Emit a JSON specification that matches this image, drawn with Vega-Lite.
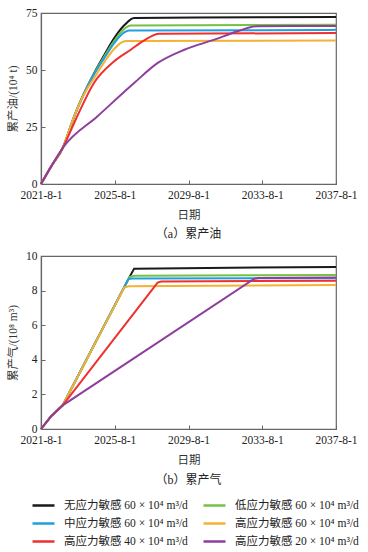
{
  "$schema": "https://vega.github.io/schema/vega-lite/v6.json",
  "padding": {"left": 6, "top": 6, "right": 5, "bottom": 5},
  "background": "white",
  "config": {
    "font": "Liberation Serif, Noto Sans CJK SC",
    "view": {"stroke": "#666", "strokeWidth": 1.2},
    "axis": {
      "grid": false,
      "domainColor": "#666",
      "domainWidth": 1.2,
      "tickColor": "#666",
      "tickSize": -4,
      "labelPadding": 8,
      "labelFont": "Liberation Serif, Noto Sans CJK SC",
      "labelFontSize": 11.5,
      "labelColor": "#222",
      "titleFont": "Liberation Serif, Noto Sans CJK SC",
      "titleFontSize": 11.5,
      "titleFontWeight": "normal",
      "titleColor": "#333"
    },
    "title": {"font": "Liberation Serif, Noto Sans CJK SC", "fontSize": 12, "fontWeight": "normal", "color": "#222"},
    "legend": {"labelFont": "Liberation Serif, Noto Sans CJK SC", "labelFontSize": 11.5, "labelColor": "#222"}
  },
  "datasets": {
    "rows": [
      {"panel": "oil", "series": "无应力敏感 60 × 10⁴ m³/d", "date": "2021-08-01", "value": 0},
      {"panel": "oil", "series": "无应力敏感 60 × 10⁴ m³/d", "date": "2022-02-15", "value": 7.6},
      {"panel": "oil", "series": "无应力敏感 60 × 10⁴ m³/d", "date": "2022-10-05", "value": 15.8},
      {"panel": "oil", "series": "无应力敏感 60 × 10⁴ m³/d", "date": "2023-05-20", "value": 29.7},
      {"panel": "oil", "series": "无应力敏感 60 × 10⁴ m³/d", "date": "2023-12-05", "value": 39.9},
      {"panel": "oil", "series": "无应力敏感 60 × 10⁴ m³/d", "date": "2024-06-20", "value": 48.7},
      {"panel": "oil", "series": "无应力敏感 60 × 10⁴ m³/d", "date": "2025-01-08", "value": 56.7},
      {"panel": "oil", "series": "无应力敏感 60 × 10⁴ m³/d", "date": "2025-07-22", "value": 64},
      {"panel": "oil", "series": "无应力敏感 60 × 10⁴ m³/d", "date": "2026-02-05", "value": 69.6},
      {"panel": "oil", "series": "无应力敏感 60 × 10⁴ m³/d", "date": "2026-08-20", "value": 72.8},
      {"panel": "oil", "series": "无应力敏感 60 × 10⁴ m³/d", "date": "2030-01-01", "value": 73},
      {"panel": "oil", "series": "无应力敏感 60 × 10⁴ m³/d", "date": "2037-08-01", "value": 73.2},

      {"panel": "oil", "series": "低应力敏感 60 × 10⁴ m³/d", "date": "2021-08-01", "value": 0},
      {"panel": "oil", "series": "低应力敏感 60 × 10⁴ m³/d", "date": "2022-02-15", "value": 7.6},
      {"panel": "oil", "series": "低应力敏感 60 × 10⁴ m³/d", "date": "2022-10-05", "value": 15.8},
      {"panel": "oil", "series": "低应力敏感 60 × 10⁴ m³/d", "date": "2023-05-20", "value": 29.7},
      {"panel": "oil", "series": "低应力敏感 60 × 10⁴ m³/d", "date": "2023-12-05", "value": 39.9},
      {"panel": "oil", "series": "低应力敏感 60 × 10⁴ m³/d", "date": "2024-06-20", "value": 48.5},
      {"panel": "oil", "series": "低应力敏感 60 × 10⁴ m³/d", "date": "2025-01-08", "value": 56},
      {"panel": "oil", "series": "低应力敏感 60 × 10⁴ m³/d", "date": "2025-07-22", "value": 62.8},
      {"panel": "oil", "series": "低应力敏感 60 × 10⁴ m³/d", "date": "2026-02-05", "value": 68},
      {"panel": "oil", "series": "低应力敏感 60 × 10⁴ m³/d", "date": "2026-06-15", "value": 69.5},
      {"panel": "oil", "series": "低应力敏感 60 × 10⁴ m³/d", "date": "2037-08-01", "value": 69.9},

      {"panel": "oil", "series": "中应力敏感 60 × 10⁴ m³/d", "date": "2021-08-01", "value": 0},
      {"panel": "oil", "series": "中应力敏感 60 × 10⁴ m³/d", "date": "2022-02-15", "value": 7.6},
      {"panel": "oil", "series": "中应力敏感 60 × 10⁴ m³/d", "date": "2022-10-05", "value": 15.8},
      {"panel": "oil", "series": "中应力敏感 60 × 10⁴ m³/d", "date": "2023-05-20", "value": 29.7},
      {"panel": "oil", "series": "中应力敏感 60 × 10⁴ m³/d", "date": "2023-12-05", "value": 39.9},
      {"panel": "oil", "series": "中应力敏感 60 × 10⁴ m³/d", "date": "2024-06-20", "value": 48.2},
      {"panel": "oil", "series": "中应力敏感 60 × 10⁴ m³/d", "date": "2025-01-08", "value": 55.3},
      {"panel": "oil", "series": "中应力敏感 60 × 10⁴ m³/d", "date": "2025-07-22", "value": 61.8},
      {"panel": "oil", "series": "中应力敏感 60 × 10⁴ m³/d", "date": "2026-02-05", "value": 66.5},
      {"panel": "oil", "series": "中应力敏感 60 × 10⁴ m³/d", "date": "2026-05-10", "value": 67.3},
      {"panel": "oil", "series": "中应力敏感 60 × 10⁴ m³/d", "date": "2037-08-01", "value": 67.6},

      {"panel": "oil", "series": "高应力敏感 60 × 10⁴ m³/d", "date": "2021-08-01", "value": 0},
      {"panel": "oil", "series": "高应力敏感 60 × 10⁴ m³/d", "date": "2022-02-15", "value": 7.6},
      {"panel": "oil", "series": "高应力敏感 60 × 10⁴ m³/d", "date": "2022-10-05", "value": 15.8},
      {"panel": "oil", "series": "高应力敏感 60 × 10⁴ m³/d", "date": "2023-05-20", "value": 29.7},
      {"panel": "oil", "series": "高应力敏感 60 × 10⁴ m³/d", "date": "2023-12-05", "value": 39.5},
      {"panel": "oil", "series": "高应力敏感 60 × 10⁴ m³/d", "date": "2024-06-20", "value": 46.5},
      {"panel": "oil", "series": "高应力敏感 60 × 10⁴ m³/d", "date": "2025-01-08", "value": 53.5},
      {"panel": "oil", "series": "高应力敏感 60 × 10⁴ m³/d", "date": "2025-07-22", "value": 59.3},
      {"panel": "oil", "series": "高应力敏感 60 × 10⁴ m³/d", "date": "2026-01-01", "value": 62.3},
      {"panel": "oil", "series": "高应力敏感 60 × 10⁴ m³/d", "date": "2026-03-15", "value": 62.7},
      {"panel": "oil", "series": "高应力敏感 60 × 10⁴ m³/d", "date": "2037-08-01", "value": 62.9},

      {"panel": "oil", "series": "高应力敏感 40 × 10⁴ m³/d", "date": "2021-08-01", "value": 0},
      {"panel": "oil", "series": "高应力敏感 40 × 10⁴ m³/d", "date": "2022-02-15", "value": 7.6},
      {"panel": "oil", "series": "高应力敏感 40 × 10⁴ m³/d", "date": "2022-10-05", "value": 15.8},
      {"panel": "oil", "series": "高应力敏感 40 × 10⁴ m³/d", "date": "2023-07-15", "value": 29.5},
      {"panel": "oil", "series": "高应力敏感 40 × 10⁴ m³/d", "date": "2024-06-15", "value": 44.3},
      {"panel": "oil", "series": "高应力敏感 40 × 10⁴ m³/d", "date": "2025-07-20", "value": 53.8},
      {"panel": "oil", "series": "高应力敏感 40 × 10⁴ m³/d", "date": "2026-06-15", "value": 58.9},
      {"panel": "oil", "series": "高应力敏感 40 × 10⁴ m³/d", "date": "2027-03-01", "value": 62.9},
      {"panel": "oil", "series": "高应力敏感 40 × 10⁴ m³/d", "date": "2028-01-01", "value": 65.9},
      {"panel": "oil", "series": "高应力敏感 40 × 10⁴ m³/d", "date": "2037-08-01", "value": 66.2},

      {"panel": "oil", "series": "高应力敏感 20 × 10⁴ m³/d", "date": "2021-08-01", "value": 0},
      {"panel": "oil", "series": "高应力敏感 20 × 10⁴ m³/d", "date": "2022-02-15", "value": 7.6},
      {"panel": "oil", "series": "高应力敏感 20 × 10⁴ m³/d", "date": "2022-10-05", "value": 15.8},
      {"panel": "oil", "series": "高应力敏感 20 × 10⁴ m³/d", "date": "2024-08-25", "value": 29.7},
      {"panel": "oil", "series": "高应力敏感 20 × 10⁴ m³/d", "date": "2026-08-20", "value": 44.3},
      {"panel": "oil", "series": "高应力敏感 20 × 10⁴ m³/d", "date": "2027-12-01", "value": 53.1},
      {"panel": "oil", "series": "高应力敏感 20 × 10⁴ m³/d", "date": "2029-05-10", "value": 58.9},
      {"panel": "oil", "series": "高应力敏感 20 × 10⁴ m³/d", "date": "2030-12-25", "value": 63.3},
      {"panel": "oil", "series": "高应力敏感 20 × 10⁴ m³/d", "date": "2032-04-01", "value": 67},
      {"panel": "oil", "series": "高应力敏感 20 × 10⁴ m³/d", "date": "2033-05-01", "value": 69.2},
      {"panel": "oil", "series": "高应力敏感 20 × 10⁴ m³/d", "date": "2037-08-01", "value": 69.3},

      {"panel": "gas", "series": "无应力敏感 60 × 10⁴ m³/d", "date": "2021-08-01", "value": 0},
      {"panel": "gas", "series": "无应力敏感 60 × 10⁴ m³/d", "date": "2022-02-15", "value": 0.73},
      {"panel": "gas", "series": "无应力敏感 60 × 10⁴ m³/d", "date": "2022-10-05", "value": 1.37},
      {"panel": "gas", "series": "无应力敏感 60 × 10⁴ m³/d", "date": "2026-06-01", "value": 8.85},
      {"panel": "gas", "series": "无应力敏感 60 × 10⁴ m³/d", "date": "2026-08-20", "value": 9.27},
      {"panel": "gas", "series": "无应力敏感 60 × 10⁴ m³/d", "date": "2037-08-01", "value": 9.37},

      {"panel": "gas", "series": "低应力敏感 60 × 10⁴ m³/d", "date": "2021-08-01", "value": 0},
      {"panel": "gas", "series": "低应力敏感 60 × 10⁴ m³/d", "date": "2022-02-15", "value": 0.73},
      {"panel": "gas", "series": "低应力敏感 60 × 10⁴ m³/d", "date": "2022-10-05", "value": 1.37},
      {"panel": "gas", "series": "低应力敏感 60 × 10⁴ m³/d", "date": "2026-05-25", "value": 8.8},
      {"panel": "gas", "series": "低应力敏感 60 × 10⁴ m³/d", "date": "2026-09-01", "value": 8.86},
      {"panel": "gas", "series": "低应力敏感 60 × 10⁴ m³/d", "date": "2037-08-01", "value": 8.9},

      {"panel": "gas", "series": "中应力敏感 60 × 10⁴ m³/d", "date": "2021-08-01", "value": 0},
      {"panel": "gas", "series": "中应力敏感 60 × 10⁴ m³/d", "date": "2022-02-15", "value": 0.73},
      {"panel": "gas", "series": "中应力敏感 60 × 10⁴ m³/d", "date": "2022-10-05", "value": 1.37},
      {"panel": "gas", "series": "中应力敏感 60 × 10⁴ m³/d", "date": "2026-04-25", "value": 8.65},
      {"panel": "gas", "series": "中应力敏感 60 × 10⁴ m³/d", "date": "2026-07-01", "value": 8.7},
      {"panel": "gas", "series": "中应力敏感 60 × 10⁴ m³/d", "date": "2037-08-01", "value": 8.72},

      {"panel": "gas", "series": "高应力敏感 60 × 10⁴ m³/d", "date": "2021-08-01", "value": 0},
      {"panel": "gas", "series": "高应力敏感 60 × 10⁴ m³/d", "date": "2022-02-15", "value": 0.73},
      {"panel": "gas", "series": "高应力敏感 60 × 10⁴ m³/d", "date": "2022-10-05", "value": 1.37},
      {"panel": "gas", "series": "高应力敏感 60 × 10⁴ m³/d", "date": "2026-02-05", "value": 8.17},
      {"panel": "gas", "series": "高应力敏感 60 × 10⁴ m³/d", "date": "2026-05-01", "value": 8.25},
      {"panel": "gas", "series": "高应力敏感 60 × 10⁴ m³/d", "date": "2037-08-01", "value": 8.33},

      {"panel": "gas", "series": "高应力敏感 40 × 10⁴ m³/d", "date": "2021-08-01", "value": 0},
      {"panel": "gas", "series": "高应力敏感 40 × 10⁴ m³/d", "date": "2022-02-15", "value": 0.73},
      {"panel": "gas", "series": "高应力敏感 40 × 10⁴ m³/d", "date": "2022-10-05", "value": 1.37},
      {"panel": "gas", "series": "高应力敏感 40 × 10⁴ m³/d", "date": "2027-11-28", "value": 8.46},
      {"panel": "gas", "series": "高应力敏感 40 × 10⁴ m³/d", "date": "2028-02-05", "value": 8.53},
      {"panel": "gas", "series": "高应力敏感 40 × 10⁴ m³/d", "date": "2037-08-01", "value": 8.57},

      {"panel": "gas", "series": "高应力敏感 20 × 10⁴ m³/d", "date": "2021-08-01", "value": 0},
      {"panel": "gas", "series": "高应力敏感 20 × 10⁴ m³/d", "date": "2022-02-15", "value": 0.73},
      {"panel": "gas", "series": "高应力敏感 20 × 10⁴ m³/d", "date": "2022-10-05", "value": 1.37},
      {"panel": "gas", "series": "高应力敏感 20 × 10⁴ m³/d", "date": "2033-02-25", "value": 8.69},
      {"panel": "gas", "series": "高应力敏感 20 × 10⁴ m³/d", "date": "2033-05-25", "value": 8.73},
      {"panel": "gas", "series": "高应力敏感 20 × 10⁴ m³/d", "date": "2037-08-01", "value": 8.76}
    ]
  },
  "data": {"name": "rows"},
  "spacing": 8,
  "resolve": {"scale": {"color": "shared"}},
  "vconcat": [
    {
      "width": 295,
      "height": 171,
      "title": {"text": "（a）累产油", "orient": "bottom", "offset": 8},
      "transform": [{"filter": "datum.panel === 'oil'"}],
      "mark": {"type": "line", "strokeWidth": 2, "interpolate": "monotone"},
      "encoding": {
        "x": {
          "field": "date", "type": "temporal",
          "scale": {"type": "utc", "domain": [{"year": 2021, "month": 8, "date": 1, "utc": true}, {"year": 2037, "month": 8, "date": 1, "utc": true}], "nice": false},
          "axis": {
            "title": "日期", "titlePadding": 9, "labelExpr": "utcFormat(datum.value, '%Y-%-m-%-d')", "labelPadding": 9, "labelFlush": false,
            "values": [{"year": 2021, "month": 8, "date": 1, "utc": true}, {"year": 2025, "month": 8, "date": 1, "utc": true}, {"year": 2029, "month": 8, "date": 1, "utc": true}, {"year": 2033, "month": 8, "date": 1, "utc": true}, {"year": 2037, "month": 8, "date": 1, "utc": true}]
          }
        },
        "y": {
          "field": "value", "type": "quantitative",
          "scale": {"domain": [0, 75], "nice": false},
          "axis": {"title": "累产油/(10⁴ t)", "values": [0, 25, 50, 75], "titlePadding": 7}
        },
        "color": {
          "field": "series", "type": "nominal",
          "sort": null,
          "scale": {
            "domain": ["无应力敏感 60 × 10⁴ m³/d", "低应力敏感 60 × 10⁴ m³/d", "中应力敏感 60 × 10⁴ m³/d", "高应力敏感 60 × 10⁴ m³/d", "高应力敏感 40 × 10⁴ m³/d", "高应力敏感 20 × 10⁴ m³/d"],
            "range": ["#1a1a1a", "#77c043", "#1ea0e0", "#f5b133", "#ee3130", "#8e3e9e"]
          },
          "legend": {
            "title": null, "orient": "none", "direction": "horizontal", "legendX": -10, "legendY": 480, "columns": 2, "symbolType": "stroke", "symbolSize": 484,
            "symbolStrokeWidth": 2.5, "labelLimit": 300, "columnPadding": 10, "rowPadding": -1, "labelOffset": 8
          }
        }
      }
    },
    {
      "width": 295,
      "height": 173,
      "title": {"text": "（b）累产气", "orient": "bottom", "offset": 9},
      "transform": [{"filter": "datum.panel === 'gas'"}],
      "mark": {"type": "line", "strokeWidth": 2, "interpolate": "linear"},
      "encoding": {
        "x": {
          "field": "date", "type": "temporal",
          "scale": {"type": "utc", "domain": [{"year": 2021, "month": 8, "date": 1, "utc": true}, {"year": 2037, "month": 8, "date": 1, "utc": true}], "nice": false},
          "axis": {
            "title": "日期", "titlePadding": 9, "labelExpr": "utcFormat(datum.value, '%Y-%-m-%-d')", "labelPadding": 9, "labelFlush": false,
            "values": [{"year": 2021, "month": 8, "date": 1, "utc": true}, {"year": 2025, "month": 8, "date": 1, "utc": true}, {"year": 2029, "month": 8, "date": 1, "utc": true}, {"year": 2033, "month": 8, "date": 1, "utc": true}, {"year": 2037, "month": 8, "date": 1, "utc": true}]
          }
        },
        "y": {
          "field": "value", "type": "quantitative",
          "scale": {"domain": [0, 10], "nice": false},
          "axis": {"title": "累产气/(10⁸ m³)", "values": [0, 2, 4, 6, 8, 10], "titlePadding": 7}
        },
        "color": {
          "field": "series", "type": "nominal",
          "sort": null
        }
      }
    }
  ]
}
